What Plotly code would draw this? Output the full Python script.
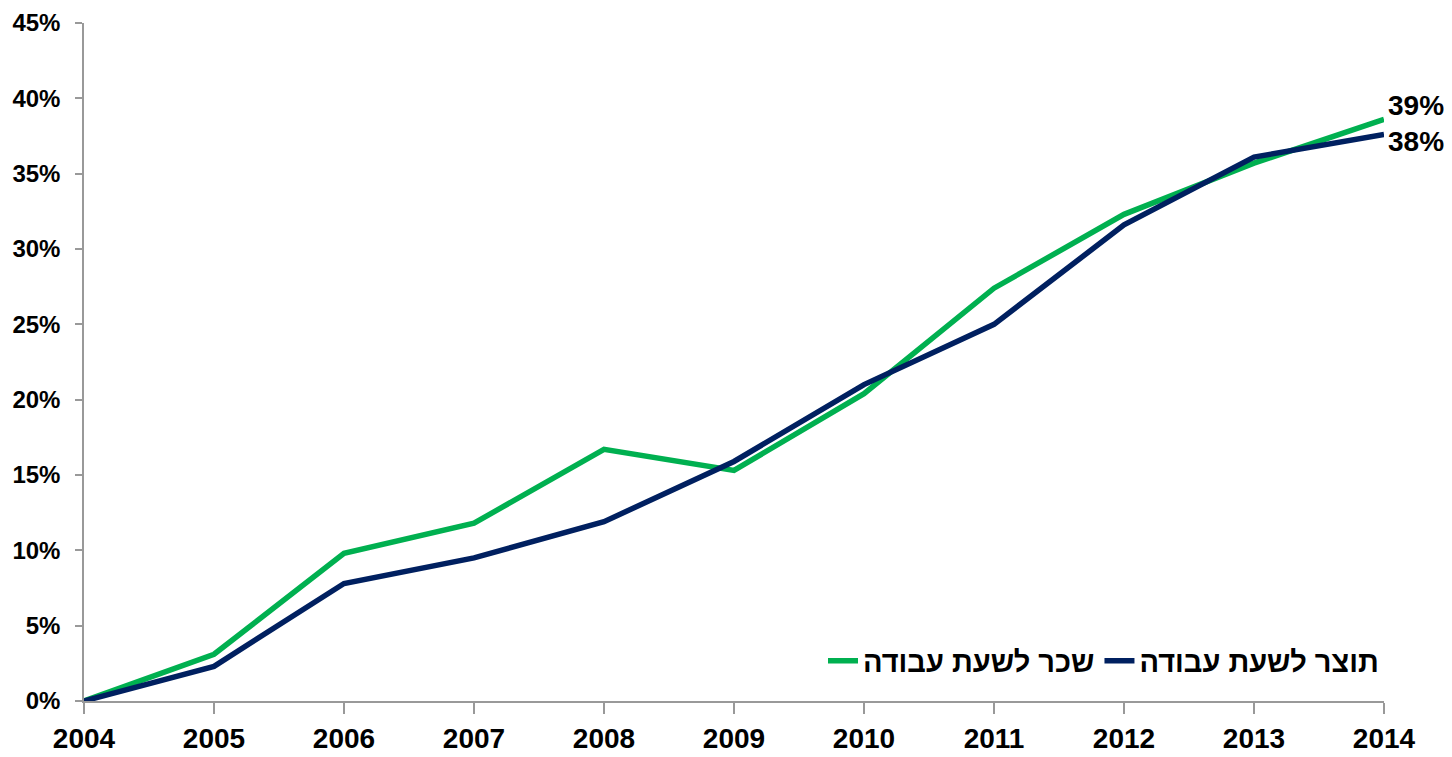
import plotly.graph_objects as go

years = [2004, 2005, 2006, 2007, 2008, 2009, 2010, 2011, 2012, 2013, 2014]
wage_per_hour = [0, 3.1, 9.8, 11.8, 16.7, 15.3, 20.4, 27.4, 32.3, 35.7, 38.6]
output_per_hour = [0, 2.3, 7.8, 9.5, 11.9, 15.9, 21.0, 25.0, 31.6, 36.1, 37.6]
name_wage = "שכר לשעת עבודה"
name_output = "תוצר לשעת עבודה"
green = "#00B050"
navy = "#002060"

font_family = "Liberation Sans, Arial, sans-serif"

fig = go.Figure()
fig.add_trace(go.Scatter(x=years, y=wage_per_hour, mode="lines", name=name_wage,
                         line=dict(color=green, width=5.5)))
fig.add_trace(go.Scatter(x=years, y=output_per_hour, mode="lines", name=name_output,
                         line=dict(color=navy, width=5.5)))

fig.add_annotation(x=years[-1], y=wage_per_hour[-1], text=f"{round(wage_per_hour[-1])}%",
                   showarrow=False, xanchor="left", yanchor="middle", xshift=2, yshift=14,
                   font=dict(family=font_family, size=28, color="black", weight="bold"))
fig.add_annotation(x=years[-1], y=output_per_hour[-1], text=f"{round(output_per_hour[-1])}%",
                   showarrow=False, xanchor="left", yanchor="middle", xshift=2, yshift=-7,
                   font=dict(family=font_family, size=28, color="black", weight="bold"))

# The page body has an 8px margin, so the figure is sized to fit inside the window.
fig.update_layout(
    width=1444, height=749,
    margin=dict(l=76, r=68, t=15, b=56),
    plot_bgcolor="white", paper_bgcolor="white",
    font=dict(family=font_family, color="black"),
    legend=dict(orientation="h", x=1.0, xanchor="right", y=0.059, yanchor="middle",
                font=dict(family=font_family, size=29, color="black", weight="bold"),
                bgcolor="rgba(0,0,0,0)"),
    xaxis=dict(range=[2004, 2014], tickmode="array", tickvals=years,
               ticktext=[str(y) for y in years], automargin=False,
               showline=True, linecolor="#999999", linewidth=1.5,
               ticks="outside", ticklen=11, tickcolor="#999999", tickwidth=1.5,
               showgrid=False, zeroline=False, ticklabelstandoff=1,
               tickfont=dict(family=font_family, size=28, color="black", weight="bold")),
    yaxis=dict(range=[0, 45], dtick=5, ticksuffix="%", automargin=False,
               showline=True, linecolor="#999999", linewidth=1.5,
               ticks="outside", ticklen=7, tickcolor="#999999", tickwidth=1.5,
               showgrid=False, zeroline=False, ticklabelstandoff=10,
               tickfont=dict(family=font_family, size=24, color="black", weight="bold")),
)

fig.write_html("out.html")
